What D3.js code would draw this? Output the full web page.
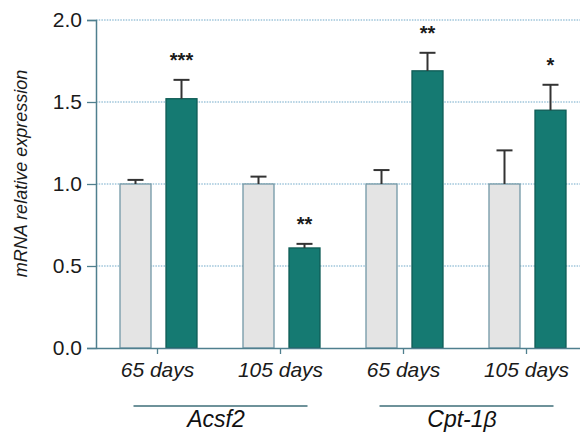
<!DOCTYPE html>
<html>
<head>
<meta charset="utf-8">
<script src="https://cdn.jsdelivr.net/npm/d3@7"></script>
<style>
  html, body { margin: 0; padding: 0; background: #fff; }
  svg { display: block; }
  text { font-family: "Liberation Sans", Arial, Helvetica, sans-serif; }
</style>
</head>
<body>
<svg id="chart" width="580" height="437"></svg>
<script>
// ---- data ----
const genes = ["Acsf2", "Acsf2", "Cpt-1β", "Cpt-1β"];
const ages = ["65 days", "105 days", "65 days", "105 days"];
const controlValues = [1.0, 1.0, 1.0, 1.0];
const controlErrors = [0.025, 0.045, 0.085, 0.205];
const treatedValues = [1.52, 0.61, 1.69, 1.45];
const treatedErrors = [0.115, 0.025, 0.11, 0.155];
const significance = ["***", "**", "**", "*"];
const yTicks = [0, 0.5, 1.0, 1.5, 2.0];
const yTitle = "mRNA relative expression";

// ---- layout ----
const svg = d3.select("#chart");
const mLeft = 96, mRight = 588, mTop = 20, mBottom = 348;

const keys = ages.map((a, i) => i);
const x = d3.scaleBand().domain(keys).range([mLeft, mRight]).padding(0);
const xSub = d3.scaleBand().domain(["control", "treated"]).range([24, 101]).paddingInner(0.326).paddingOuter(0);
const y = d3.scaleLinear().domain([0, 2]).range([mBottom, mTop]);

const rows = keys.map(i => ({
  i,
  bars: [
    { type: "control", v: controlValues[i], e: controlErrors[i] },
    { type: "treated", v: treatedValues[i], e: treatedErrors[i] }
  ]
}));

// grid lines
svg.append("g").selectAll("line").data(yTicks.filter(d => d > 0)).join("line")
  .attr("x1", mLeft).attr("x2", 580)
  .attr("y1", d => y(d)).attr("y2", d => y(d))
  .attr("stroke", "#6fa8c8").attr("stroke-width", 1.2)
  .attr("stroke-dasharray", "1.5,1.2");

// bars
const g = svg.append("g").selectAll("g").data(rows).join("g")
  .attr("transform", d => `translate(${x(d.i)},0)`);

g.selectAll("rect").data(d => d.bars).join("rect")
  .attr("x", d => xSub(d.type))
  .attr("width", xSub.bandwidth())
  .attr("y", d => y(d.v))
  .attr("height", d => y(0) - y(d.v))
  .attr("fill", d => d.type === "control" ? "#e4e4e4" : "#157a72")
  .attr("stroke", d => d.type === "control" ? "#7297a6" : "#0f5c56")
  .attr("stroke-width", 1.3);

// error bars
const eb = g.selectAll("g.err").data(d => d.bars).join("g").attr("class", "err");
eb.append("line")
  .attr("x1", d => xSub(d.type) + xSub.bandwidth() / 2)
  .attr("x2", d => xSub(d.type) + xSub.bandwidth() / 2)
  .attr("y1", d => y(d.v)).attr("y2", d => y(d.v + d.e))
  .attr("stroke", "#333").attr("stroke-width", 2);
eb.append("line")
  .attr("x1", d => xSub(d.type) + xSub.bandwidth() / 2 - 8)
  .attr("x2", d => xSub(d.type) + xSub.bandwidth() / 2 + 8)
  .attr("y1", d => y(d.v + d.e)).attr("y2", d => y(d.v + d.e))
  .attr("stroke", "#333").attr("stroke-width", 2);

// significance
g.append("text")
  .attr("x", xSub("treated") + xSub.bandwidth() / 2)
  .attr("y", d => y(treatedValues[d.i] + treatedErrors[d.i]) - 13)
  .attr("text-anchor", "middle")
  .attr("font-size", 20).attr("font-weight", "bold").attr("fill", "#1a1a1a")
  .text(d => significance[d.i]);

// y axis
const yAxis = svg.append("g").attr("transform", `translate(${mLeft},0)`)
  .call(d3.axisLeft(y).tickValues(yTicks).tickFormat(d3.format(".1f")).tickSize(9).tickPadding(5));
yAxis.select(".domain").attr("stroke", "#4f7f8e").attr("stroke-width", 1.5);
yAxis.selectAll(".tick line").attr("stroke", "#4f7f8e").attr("stroke-width", 1.3);
yAxis.selectAll(".tick text").attr("font-size", 21).attr("fill", "#1a1a1a")
  .attr("font-family", "'Liberation Sans', Arial, sans-serif");

// x axis
const xAxis = svg.append("g").attr("transform", `translate(0,${mBottom})`)
  .call(d3.axisBottom(x).tickFormat(i => ages[i]).tickSize(6).tickPadding(8).tickSizeOuter(0));
xAxis.select(".domain").attr("stroke", "#4f7f8e").attr("stroke-width", 1.5);
xAxis.selectAll(".tick line").attr("stroke", "#4f7f8e").attr("stroke-width", 1.3);
xAxis.selectAll(".tick text").attr("font-size", 21).attr("font-style", "italic").attr("fill", "#1a1a1a")
  .attr("font-family", "'Liberation Sans', Arial, sans-serif");

// gene group lines and labels
const geneNames = Array.from(new Set(genes));
geneNames.forEach(name => {
  const idx = keys.filter(i => genes[i] === name);
  const c0 = x(idx[0]) + x.bandwidth() / 2;
  const c1 = x(idx[idx.length - 1]) + x.bandwidth() / 2;
  svg.append("line")
    .attr("x1", c0 - 24).attr("x2", c1 + 27)
    .attr("y1", 406).attr("y2", 406)
    .attr("stroke", "#3e6e78").attr("stroke-width", 1.6);
  svg.append("text")
    .attr("x", (c0 + c1) / 2 - 3).attr("y", 427)
    .attr("text-anchor", "middle")
    .attr("font-size", 23).attr("font-style", "italic").attr("fill", "#111")
    .text(name);
});

// y title
svg.append("text")
  .attr("transform", `translate(27,${(70 + 277) / 2}) rotate(-90)`)
  .attr("text-anchor", "middle")
  .attr("font-size", 18).attr("font-style", "italic").attr("fill", "#1a1a1a")
  .text(yTitle);
</script>
</body>
</html>
